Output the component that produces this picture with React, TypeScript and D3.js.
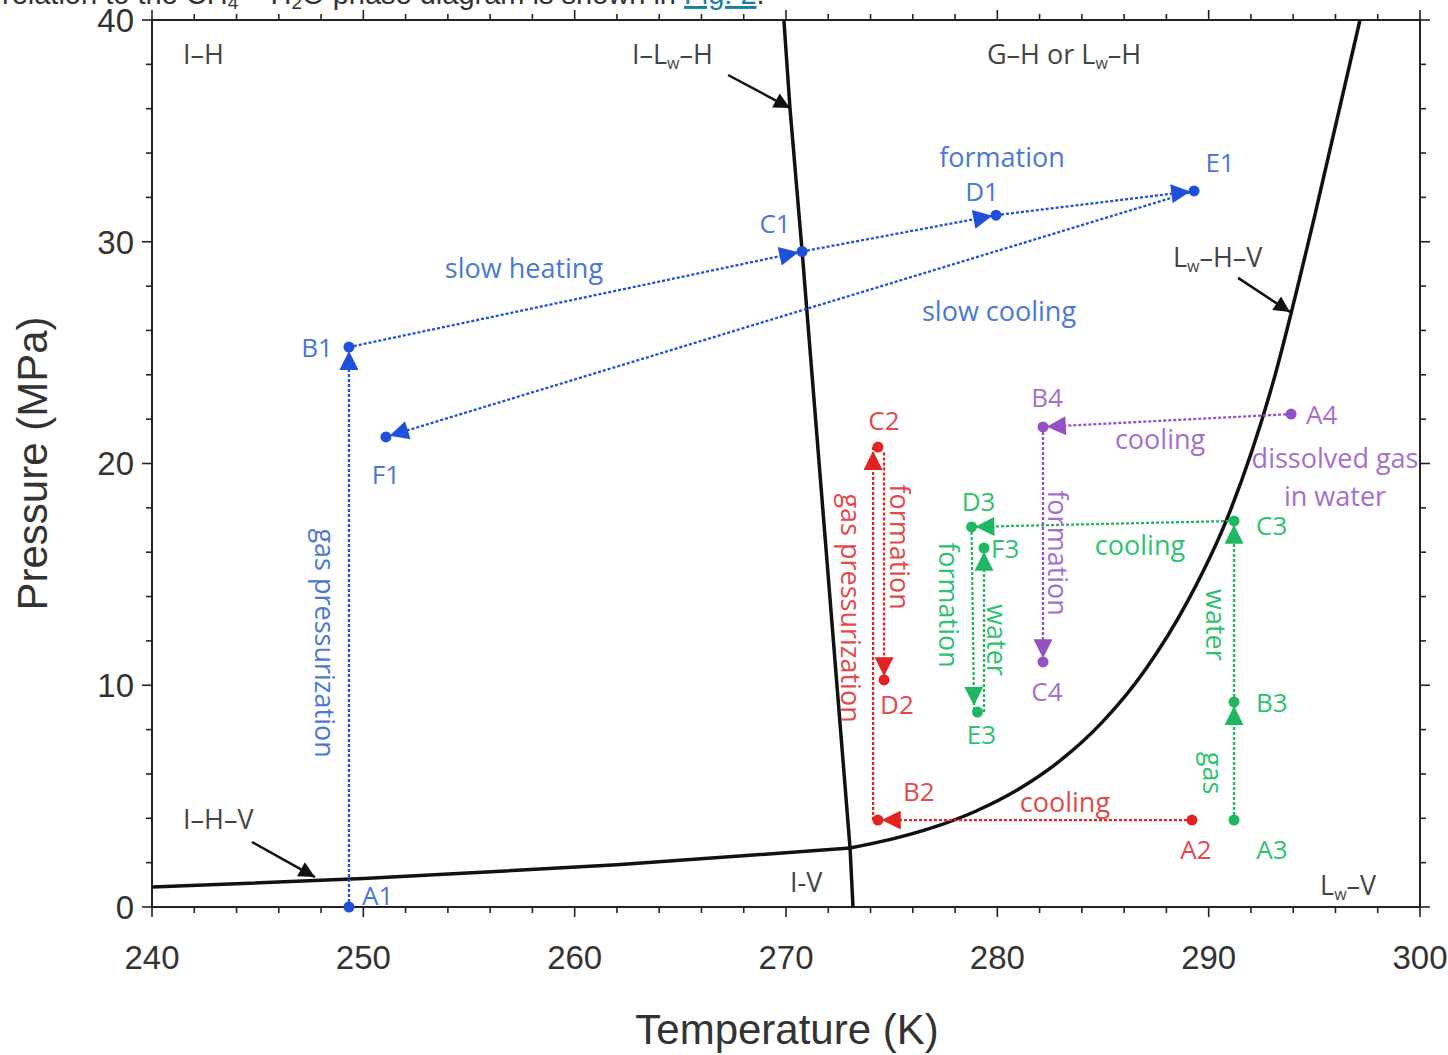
import React from "react";
import * as d3 from "d3";

// axis ticks
const tempTicks = [240, 250, 260, 270, 280, 290, 300];
const pressTicks = [0, 10, 20, 30, 40];

// phase boundaries [T (K), P (MPa)]
const ihvCurve = [[240, 0.9], [250, 1.28], [262, 1.9], [273.03, 2.66]];
const ilwhCurve = [[269.9, 40], [270.19, 36.0], [270.76, 29.6], [273.03, 2.66], [273.17, 0]];
const lwhvCurve = [
  [273.03, 2.66], [275, 3.06], [277, 3.6], [279, 4.33], [281, 5.31], [283, 6.62], [285, 8.37],
  [287, 10.7], [289, 13.78], [291, 17.82], [293, 23.5], [295, 31.1], [297.16, 40],
];

// experiment points
const bluePoints = [
  { name: "A1", T: 249.32, P: 0 },
  { name: "B1", T: 249.32, P: 25.25 },
  { name: "C1", T: 270.76, P: 29.56 },
  { name: "D1", T: 279.94, P: 31.2 },
  { name: "E1", T: 289.31, P: 32.29 },
  { name: "F1", T: 251.07, P: 21.2 },
];
const redPoints = [
  { name: "A2", T: 289.21, P: 3.92 },
  { name: "B2", T: 274.35, P: 3.92 },
  { name: "C2", T: 274.35, P: 20.74 },
  { name: "D2", T: 274.64, P: 10.24 },
];
const greenPoints = [
  { name: "A3", T: 291.2, P: 3.92 },
  { name: "B3", T: 291.2, P: 9.24 },
  { name: "C3", T: 291.2, P: 17.41 },
  { name: "D3", T: 278.78, P: 17.14 },
  { name: "E3", T: 279.06, P: 8.79 },
  { name: "F3", T: 279.37, P: 16.19 },
];
const purplePoints = [
  { name: "A4", T: 293.9, P: 22.23 },
  { name: "B4", T: 282.16, P: 21.65 },
  { name: "C4", T: 282.16, P: 11.05 },
];

// process paths, each [from, to] in [T, P]
const blueSegments = [
  [[249.32, 0], [249.32, 25.25]],
  [[249.32, 25.25], [270.76, 29.56]],
  [[270.76, 29.56], [279.94, 31.2]],
  [[279.94, 31.2], [289.31, 32.29]],
  [[289.31, 32.29], [251.07, 21.2]],
];
const redSegments = [
  [[289.21, 3.92], [274.35, 3.92]],
  [[274.12, 3.92], [274.12, 20.74]],
  [[274.64, 20.5], [274.64, 10.24]],
];
const greenSegments = [
  [[291.2, 3.92], [291.2, 9.24]],
  [[291.2, 9.24], [291.2, 17.41]],
  [[291.2, 17.41], [278.78, 17.14]],
  [[278.78, 17.14], [278.9, 8.9]],
  [[279.37, 8.79], [279.37, 16.19]],
];
const purpleSegments = [
  [[293.9, 22.23], [282.16, 21.65]],
  [[282.16, 21.65], [282.16, 11.05]],
];

// process labels [text, T, P, rotated]
const blueNotes = [
  ["formation", 280.22, 33.37, false],
  ["slow heating", 257.6, 28.37, false],
  ["slow cooling", 280.08, 26.43, false],
  ["gas pressurization", 248.23, 11.9, true],
];
const redNotes = [
  ["cooling", 283.2, 4.28, false],
  ["formation", 275.4, 16.23, true],
  ["gas pressurization", 273.12, 13.48, true],
];
const greenNotes = [
  ["cooling", 286.75, 15.87, false],
  ["formation", 277.76, 13.62, true],
  ["water", 280.03, 12.04, true],
  ["water", 290.35, 12.72, true],
  ["gas", 290.21, 6.04, true],
];
const purpleNotes = [
  ["cooling", 287.7, 20.65, false],
  ["dissolved gas", 295.98, 19.8, false],
  ["in water", 295.98, 18.08, false],
  ["formation", 282.9, 15.96, true],
];

// label offsets for point names (px)
const pointLabelPos = {
  A1: [13, -2, "start"], B1: [-16, 10, "end"], C1: [-27, -19, "middle"],
  D1: [-14, -14, "middle"], E1: [26, -19, "middle"], F1: [0, 47, "middle"],
  A2: [4, 39, "middle"], B2: [25, -19, "start"], C2: [6, -17, "middle"], D2: [-4, 34, "start"],
  A3: [38, 39, "middle"], B3: [22, 10, "start"], C3: [22, 14, "start"],
  D3: [7, -16, "middle"], E3: [4, 32, "middle"], F3: [7, 10, "start"],
  A4: [15, 10, "start"], B4: [4, -20, "middle"], C4: [4, 39, "middle"],
};

// phase region labels
const regionLabels = [
  { T: 241.47, P: 38.0, parts: [["I–H", false]] },
  { T: 262.71, P: 38.0, parts: [["I–L", false], ["w", true], ["–H", false]] },
  { T: 279.51, P: 38.0, parts: [["G–H or L", false], ["w", true], ["–H", false]] },
  { T: 288.31, P: 28.86, parts: [["L", false], ["w", true], ["–H–V", false]] },
  { T: 241.47, P: 3.52, parts: [["I–H–V", false]] },
  { T: 270.19, P: 0.68, parts: [["I-V", false]] },
  { T: 295.27, P: 0.54, parts: [["L", false], ["w", true], ["–V", false]] },
];
const pointerArrows = [
  [[267.26, 37.52], [270.19, 36.03]],
  [[244.73, 2.93], [247.71, 1.35]],
  [[291.39, 28.37], [293.85, 26.83]],
];

const series = [
  { key: "blue", line: "#1f50dc", text: "#4a78d2", points: bluePoints, segments: blueSegments, notes: blueNotes },
  { key: "red", line: "#e32222", text: "#e34a4a", points: redPoints, segments: redSegments, notes: redNotes },
  { key: "green", line: "#1fb664", text: "#2ec271", points: greenPoints, segments: greenSegments, notes: greenNotes },
  { key: "purple", line: "#9550c4", text: "#a56fcb", points: purplePoints, segments: purpleSegments, notes: purpleNotes },
];

const App = () => {
  const width = 1448;
  const height = 1055;
  const left = 152, right = 1420, top = 20, bottom = 907;

  const x = d3.scaleLinear().domain([240, 300]).range([left, right]);
  const y = d3.scaleLinear().domain([0, 40]).range([bottom, top]);

  const minorT = d3.range(240, 301, 2);
  const minorP = d3.range(0, 41, 2);

  const line = d3.line().x((d) => x(d[0])).y((d) => y(d[1]));
  const smooth = d3.line().x((d) => x(d[0])).y((d) => y(d[1])).curve(d3.curveMonotoneX);

  const labelFont = "'Open Sans', 'DejaVu Sans', sans-serif";
  const axisFont = "'Liberation Sans', Arial, sans-serif";

  return (
    <svg width={width} height={height} style={{ position: "absolute", left: 0, top: 0, background: "#fff" }}>
      <defs>
        {series.map((s) => (
          <marker key={s.key} id={"arr-" + s.key} viewBox="0 0 10 10" refX={12} refY={5}
            markerWidth={20} markerHeight={19} markerUnits="userSpaceOnUse" orient="auto">
            <path d="M0,0L10,5L0,10z" fill={s.line} />
          </marker>
        ))}
        <marker id="arr-black" viewBox="0 0 10 10" refX={10} refY={5}
          markerWidth={22} markerHeight={16} markerUnits="userSpaceOnUse" orient="auto">
          <path d="M0,0L10,5L0,10z" fill="#111" />
        </marker>
      </defs>

      {/* clipped sentence from the page above */}
      <text x={2} y={4} fontFamily={axisFont} fontSize={29} fill="#333">
        relation to the CH<tspan fontSize={19} dy={5}>4</tspan><tspan dy={-5}> – H</tspan>
        <tspan fontSize={19} dy={5}>2</tspan><tspan dy={-5}>O phase diagram is shown in </tspan>
        <tspan fill="#1a7fa6" textDecoration="underline">Fig. 2</tspan>.
      </text>

      {/* frame */}
      <rect x={left} y={top} width={right - left} height={bottom - top} fill="none" stroke="#222" strokeWidth={2} />

      {/* ticks */}
      {minorT.map((t) => {
        const len = t % 10 === 0 ? 10 : 6;
        return (
          <g key={"t" + t} stroke="#222" strokeWidth={1.6}>
            <line x1={x(t)} x2={x(t)} y1={bottom} y2={bottom + len} />
            <line x1={x(t)} x2={x(t)} y1={top} y2={top - len} />
          </g>
        );
      })}
      {minorP.map((p) => {
        const len = p % 10 === 0 ? 10 : 6;
        return (
          <g key={"p" + p} stroke="#222" strokeWidth={1.6}>
            <line x1={left} x2={left - len} y1={y(p)} y2={y(p)} />
            <line x1={right} x2={right + len} y1={y(p)} y2={y(p)} />
          </g>
        );
      })}
      {tempTicks.map((t) => (
        <text key={"tl" + t} x={x(t)} y={969} textAnchor="middle" fontFamily={axisFont} fontSize={33} fill="#333">
          {t}
        </text>
      ))}
      {pressTicks.map((p) => (
        <text key={"pl" + p} x={134} y={y(p)} dy="0.36em" textAnchor="end" fontFamily={axisFont} fontSize={33} fill="#333">
          {p}
        </text>
      ))}
      <text x={787} y={1044} textAnchor="middle" fontFamily={axisFont} fontSize={42} fill="#333">
        Temperature (K)
      </text>
      <text transform={`translate(47,${(top + bottom) / 2}) rotate(-90)`} textAnchor="middle" fontFamily={axisFont}
        fontSize={42} fill="#333">
        Pressure (MPa)
      </text>

      {/* phase boundaries */}
      <path d={smooth(ihvCurve)} fill="none" stroke="#111" strokeWidth={3.5} />
      <path d={line(ilwhCurve)} fill="none" stroke="#111" strokeWidth={3.5} />
      <path d={smooth(lwhvCurve)} fill="none" stroke="#111" strokeWidth={3.5} />

      {regionLabels.map((r, i) => (
        <text key={"r" + i} x={x(r.T)} y={y(r.P)} fontFamily={labelFont} fontSize={27} fill="#444">
          {r.parts.map(([s, sub], j) =>
            sub ? (
              <tspan key={j} fontSize={16} dy={5}>{s}</tspan>
            ) : (
              <tspan key={j} dy={j > 0 ? -5 : 0}>{s}</tspan>
            )
          )}
        </text>
      ))}
      {pointerArrows.map((a, i) => (
        <line key={"pa" + i} x1={x(a[0][0])} y1={y(a[0][1])} x2={x(a[1][0])} y2={y(a[1][1])}
          stroke="#111" strokeWidth={2.5} markerEnd="url(#arr-black)" />
      ))}

      {/* process paths */}
      {series.map((s) => (
        <g key={s.key}>
          {s.segments.map((seg, i) => (
            <line key={i} x1={x(seg[0][0])} y1={y(seg[0][1])} x2={x(seg[1][0])} y2={y(seg[1][1])}
              stroke={s.line} strokeWidth={2.3} strokeDasharray="3 2" markerEnd={`url(#arr-${s.key})`} />
          ))}
          {s.points.map((p) => (
            <circle key={p.name} cx={x(p.T)} cy={y(p.P)} r={5.5} fill={s.line} />
          ))}
          {s.points.map((p) => {
            const [dx, dy, anchor] = pointLabelPos[p.name];
            return (
              <text key={"l" + p.name} x={x(p.T) + dx} y={y(p.P) + dy} textAnchor={anchor}
                fontFamily={labelFont} fontSize={26} fill={s.text}>
                {p.name}
              </text>
            );
          })}
          {s.notes.map(([txt, T, P, rot], i) =>
            rot ? (
              <text key={"n" + i} transform={`translate(${x(T)},${y(P)}) rotate(90)`} textAnchor="middle"
                dominantBaseline="central" fontFamily={labelFont} fontSize={27} fill={s.text}>
                {txt}
              </text>
            ) : (
              <text key={"n" + i} x={x(T)} y={y(P)} textAnchor="middle" fontFamily={labelFont} fontSize={27} fill={s.text}>
                {txt}
              </text>
            )
          )}
        </g>
      ))}
    </svg>
  );
};

export default App;
